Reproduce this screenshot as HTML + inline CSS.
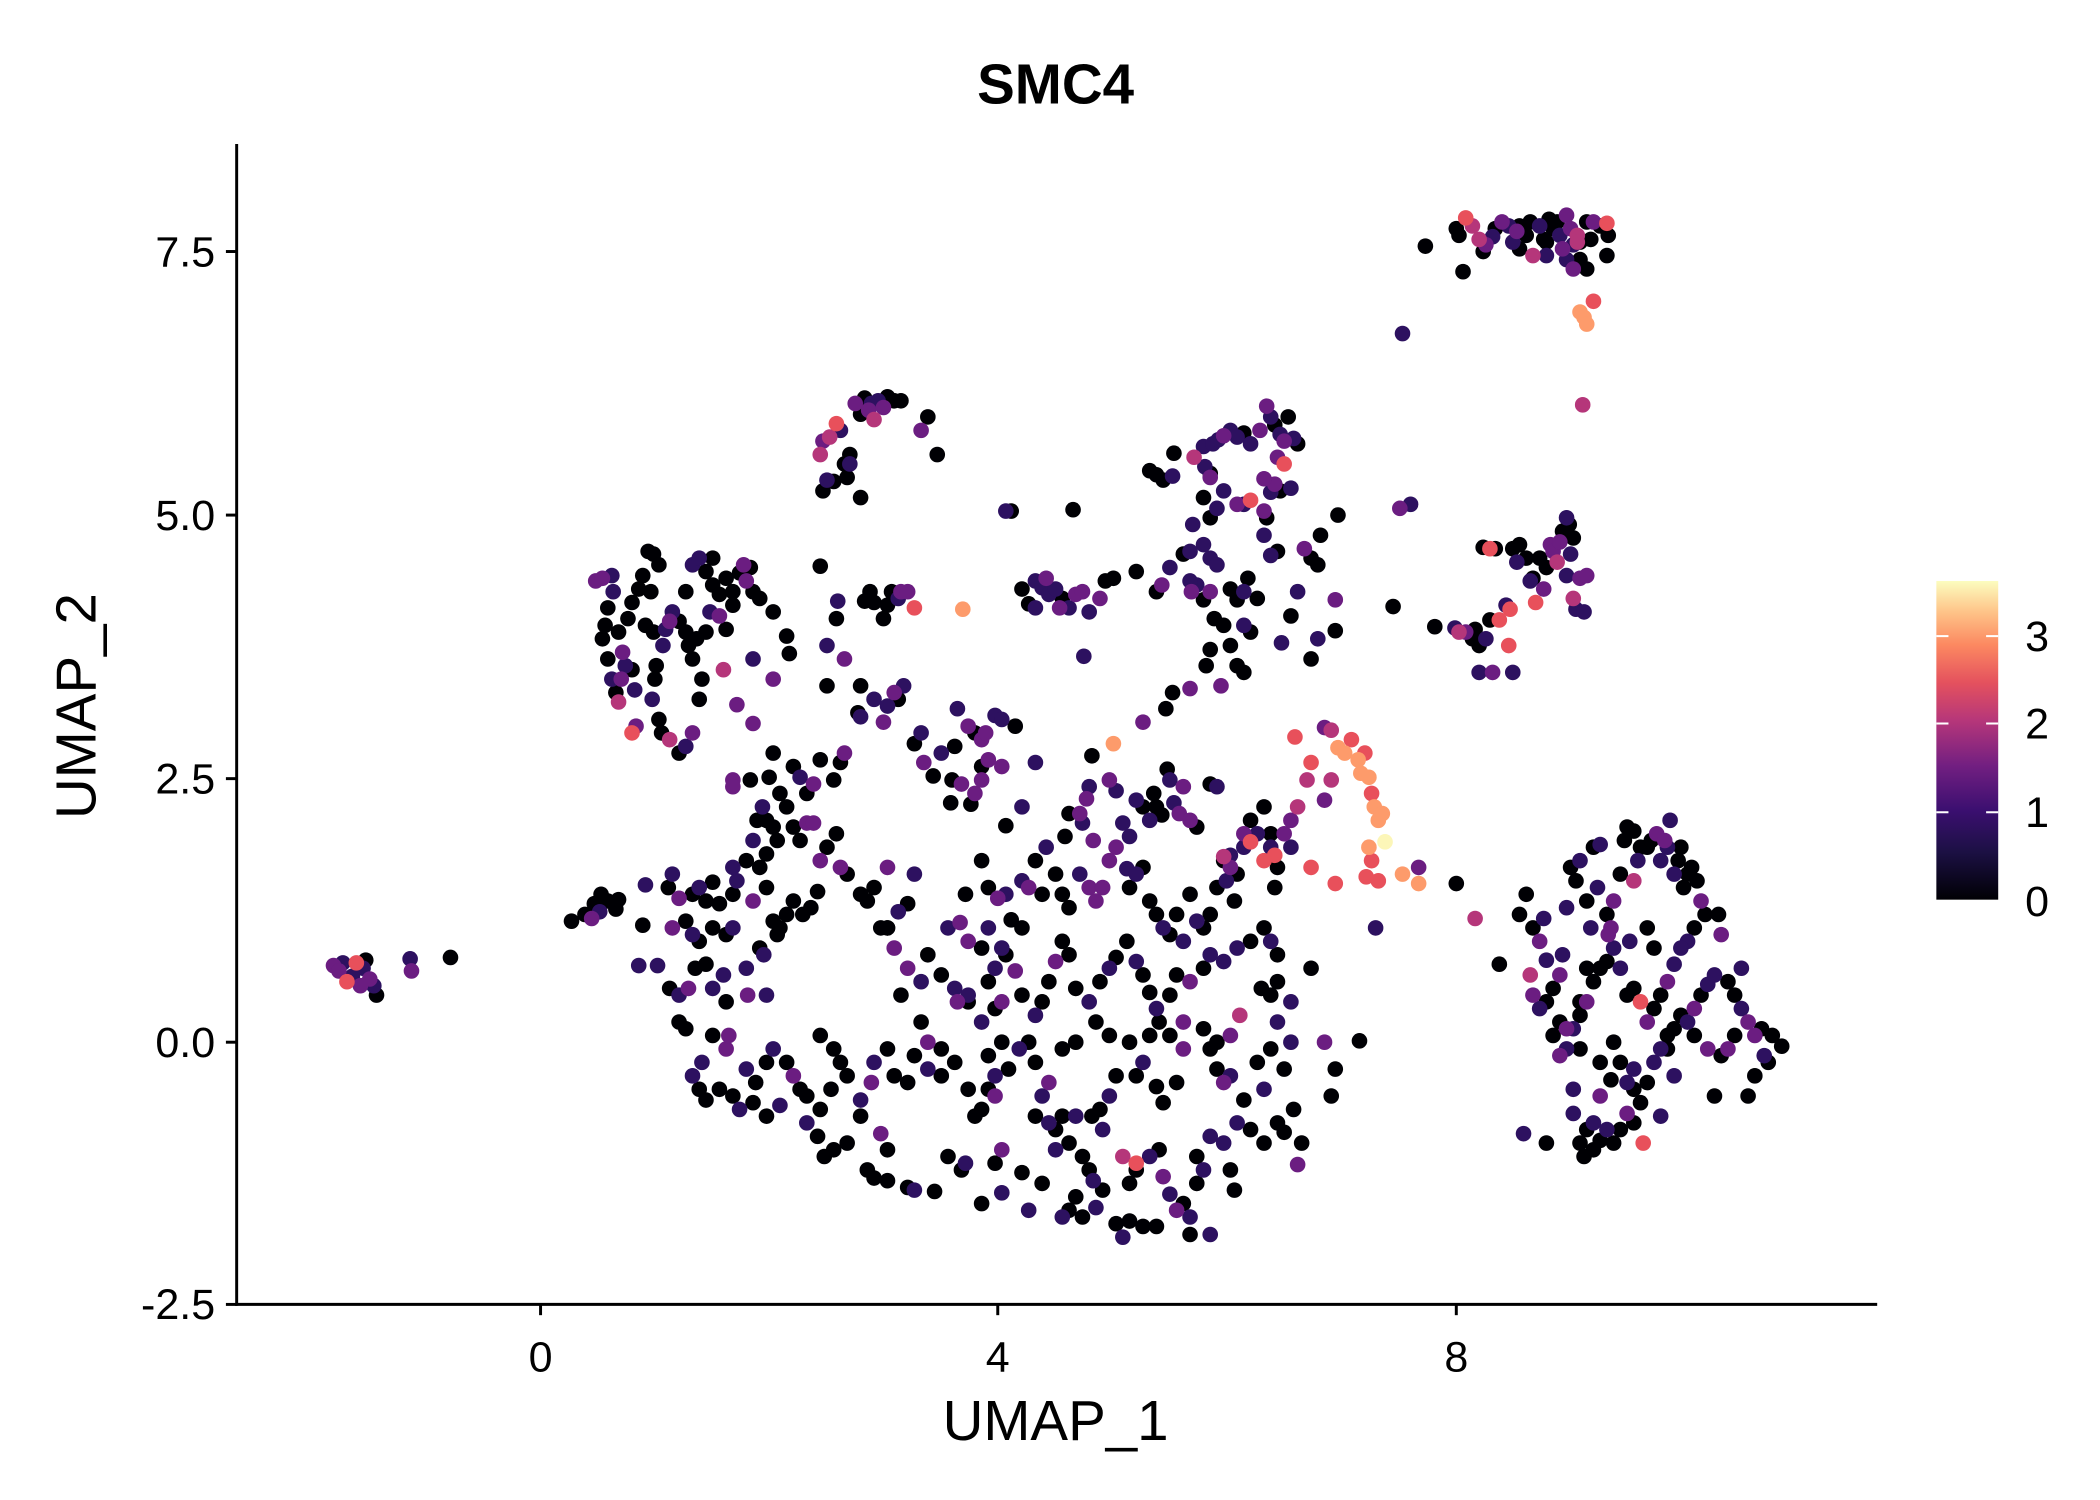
<!DOCTYPE html>
<html><head><meta charset="utf-8"><style>html,body{margin:0;padding:0;background:#fff}svg{display:block}</style></head>
<body>
<svg id="s" xmlns="http://www.w3.org/2000/svg" width="2100" height="1500" viewBox="0 0 1561.7 1115.4" font-family="Liberation Sans, sans-serif">
<defs><linearGradient id="g" x1="0" y1="1" x2="0" y2="0">
<stop offset="0" stop-color="#000004"/><stop offset="0.15" stop-color="#1c1044"/><stop offset="0.28" stop-color="#3b0f70"/><stop offset="0.42" stop-color="#721f81"/><stop offset="0.56" stop-color="#b5367a"/><stop offset="0.68" stop-color="#e4515e"/><stop offset="0.8" stop-color="#fc8961"/><stop offset="0.9" stop-color="#fec287"/><stop offset="1" stop-color="#fcfdbf"/></linearGradient></defs>
<rect width="1561.7" height="1115.4" fill="#fff"/>
<text x="785" y="77" font-size="42" font-weight="bold" text-anchor="middle">SMC4</text>
<g id="pts"></g>
<line x1="176" y1="107" x2="176" y2="971" stroke="#000" stroke-width="2.2"/>
<line x1="175" y1="970" x2="1396" y2="970" stroke="#000" stroke-width="2.2"/>
<g stroke="#000" stroke-width="2.2">
<line x1="168" y1="187" x2="176" y2="187"/><line x1="168" y1="383" x2="176" y2="383"/><line x1="168" y1="579" x2="176" y2="579"/><line x1="168" y1="775" x2="176" y2="775"/><line x1="168" y1="970" x2="176" y2="970"/>
<line x1="402" y1="970" x2="402" y2="978"/><line x1="742" y1="970" x2="742" y2="978"/><line x1="1083" y1="970" x2="1083" y2="978"/></g>
<g font-size="32" text-anchor="end"><text x="160" y="198">7.5</text><text x="160" y="394">5.0</text><text x="160" y="590">2.5</text><text x="160" y="786">0.0</text><text x="160" y="981">-2.5</text></g>
<g font-size="32" text-anchor="middle"><text x="402" y="1020">0</text><text x="742" y="1020">4</text><text x="1083" y="1020">8</text></g>
<text x="785" y="1071" font-size="42" text-anchor="middle">UMAP_1</text>
<text transform="translate(71,525) rotate(-90)" font-size="42" text-anchor="middle">UMAP_2</text>
<rect x="1440" y="432" width="46" height="237" fill="url(#g)"/>
<g stroke="#fff" stroke-width="1.5"><line x1="1440" y1="473" x2="1449" y2="473"/><line x1="1477" y1="473" x2="1486" y2="473"/><line x1="1440" y1="538" x2="1449" y2="538"/><line x1="1477" y1="538" x2="1486" y2="538"/><line x1="1440" y1="604" x2="1449" y2="604"/><line x1="1477" y1="604" x2="1486" y2="604"/></g>
<g font-size="32"><text x="1506" y="484">3</text><text x="1506" y="549">2</text><text x="1506" y="615">1</text><text x="1506" y="681">0</text></g>
</svg>
<script>
var C={k:"#000004",d:"#2d1160",p:"#6b1d81",m:"#b5367a",r:"#e8505b",o:"#fd9b6b",y:"#fcf6b8"};
var P=[
[248,718,"p"],[252,722,"p"],[258,730,"r"],[265,716,"r"],[270,720,"d"],[262,726,"d"],[275,728,"p"],[280,740,"k"],[278,733,"d"],[268,733,"p"],[305,713,"d"],[306,722,"p"],[335,712,"k"],[255,716,"d"],[272,714,"k"],
[425,685,"k"],[435,680,"k"],[442,672,"k"],[447,665,"k"],[452,670,"k"],[458,676,"k"],[460,669,"k"],[440,683,"p"],[446,678,"d"],[478,688,"k"],[480,658,"d"],[497,660,"k"],[475,718,"d"],[489,718,"d"],[500,690,"p"],[515,665,"k"],[520,660,"d"],[525,670,"k"],[530,656,"k"],
[443,432,"p"],[448,430,"p"],[455,428,"d"],[456,440,"d"],[452,452,"k"],[450,465,"k"],[448,475,"k"],[452,490,"k"],[455,505,"d"],[458,515,"k"],[460,522,"m"],[462,505,"p"],[463,485,"p"],[460,470,"k"],[465,495,"d"],[470,498,"k"],[472,513,"d"],[470,545,"r"],[473,540,"p"],[467,460,"k"],[470,448,"k"],[475,438,"k"],[478,428,"k"],[482,410,"k"],[486,412,"k"],[490,420,"k"],[484,440,"k"],[480,465,"k"],[486,470,"k"],[493,480,"d"],[488,495,"k"],[487,505,"k"],[485,520,"d"],[490,535,"k"],[492,545,"k"],[498,550,"m"],[505,560,"k"],[510,555,"d"],[515,545,"p"],[500,455,"d"],[498,462,"p"],[495,468,"d"],[505,462,"k"],[510,470,"k"],[512,480,"k"],[515,490,"k"],[518,475,"k"],[522,505,"k"],[520,520,"k"],[510,440,"k"],[515,420,"d"],[520,415,"d"],[525,425,"k"],[530,435,"k"],[535,442,"k"],[530,415,"k"],[540,430,"k"],[545,440,"k"],[550,426,"k"],[555,432,"p"],[560,440,"k"],[565,445,"k"],[553,420,"p"],[558,422,"k"],[540,468,"k"],[545,450,"k"],[535,458,"p"],[528,455,"d"],[525,470,"k"],[538,498,"m"],[548,524,"p"],[545,580,"p"],[545,585,"p"],[560,490,"d"],[575,505,"p"],[560,538,"p"],[585,473,"k"],[587,486,"k"],[575,455,"k"],
[610,338,"m"],[612,328,"p"],[617,325,"m"],[622,315,"r"],[625,320,"d"],[628,345,"k"],[632,338,"k"],[630,355,"k"],[632,345,"d"],[636,300,"p"],[640,308,"k"],[643,296,"k"],[646,305,"p"],[648,300,"d"],[650,312,"m"],[653,298,"d"],[657,303,"p"],[660,295,"k"],[665,298,"k"],[670,298,"k"],[685,320,"p"],[690,310,"k"],[697,338,"k"],[640,370,"k"],[615,357,"d"],[612,365,"k"],[620,358,"k"],
[610,421,"k"],[623,447,"d"],[622,460,"k"],[615,480,"d"],[628,490,"p"],[615,510,"k"],[640,510,"k"],[650,520,"d"],[660,525,"d"],[665,515,"p"],[672,510,"d"],[668,520,"k"],[643,447,"k"],[647,440,"k"],[650,448,"k"],[657,460,"k"],[660,450,"k"],[663,440,"k"],[668,445,"d"],[670,440,"p"],[675,440,"p"],[680,452,"r"],[638,530,"k"],[640,533,"d"],[657,537,"p"],[685,545,"d"],[680,553,"k"],[687,567,"p"],[694,577,"k"],[700,560,"d"],[710,555,"k"],[712,527,"d"],[720,540,"p"],[725,545,"k"],[730,550,"p"],[733,545,"p"],[730,570,"k"],[735,565,"p"],[740,532,"d"],[745,535,"d"],[755,540,"k"],[708,580,"k"],[707,597,"k"],[715,583,"p"],[722,598,"k"],[725,590,"p"],[730,580,"p"],[745,570,"p"],[770,567,"d"],[760,600,"d"],[748,614,"k"],[716,453,"o"],[748,380,"d"],[752,380,"k"],[798,379,"k"],[806,488,"d"],
[760,438,"k"],[765,449,"k"],[770,432,"d"],[775,437,"d"],[778,430,"p"],[780,442,"d"],[785,438,"d"],[790,445,"k"],[795,452,"d"],[800,442,"p"],[805,440,"p"],[810,455,"d"],[818,445,"p"],[822,432,"k"],[828,430,"k"],[845,425,"k"],[788,452,"p"],[770,452,"d"],
[855,350,"k"],[860,353,"k"],[865,357,"k"],[873,337,"k"],[872,354,"d"],[888,340,"m"],[895,332,"d"],[896,347,"d"],[900,352,"k"],[900,355,"p"],[902,330,"d"],[906,327,"d"],[910,324,"p"],[915,320,"d"],[920,325,"d"],[925,322,"k"],[930,330,"d"],[937,320,"p"],[942,302,"p"],[945,310,"d"],[948,316,"k"],[952,323,"d"],[955,328,"p"],[958,310,"k"],[962,326,"d"],[965,330,"k"],[955,345,"r"],[950,340,"p"],[948,360,"p"],[952,365,"k"],[960,363,"d"],[930,372,"r"],[925,375,"d"],[920,375,"p"],[940,356,"p"],[945,366,"d"],[940,380,"p"],[910,365,"d"],[905,378,"d"],[900,385,"k"],[895,370,"k"],[887,390,"d"],[885,410,"d"],[895,405,"d"],[900,415,"d"],[905,420,"d"],[900,440,"p"],[895,446,"k"],[890,435,"d"],[885,432,"d"],[886,440,"p"],[880,412,"k"],[870,422,"d"],[860,440,"k"],[864,435,"p"],[915,438,"k"],[920,446,"k"],[925,440,"d"],[930,470,"k"],[925,465,"d"],[928,430,"k"],[935,445,"k"],[945,413,"d"],[940,398,"d"],[942,385,"k"],[950,410,"k"],[965,440,"d"],[970,408,"p"],[975,415,"k"],[980,420,"k"],[982,398,"k"],[995,383,"k"],[993,446,"p"],[993,469,"k"],[980,475,"d"],[975,490,"k"],[960,458,"k"],[953,478,"d"],[915,480,"k"],[920,495,"k"],[925,500,"k"],[908,510,"p"],[900,483,"k"],[897,495,"k"],[885,512,"p"],[872,515,"k"],[867,527,"k"],[850,537,"p"],[828,553,"o"],[903,460,"k"],[910,465,"k"],
[1036,451,"k"],[1041,378,"p"],[1049,375,"d"],[1043,248,"d"],
[1060,183,"k"],[1085,175,"k"],[1083,170,"k"],[1090,162,"r"],[1095,168,"m"],[1100,178,"m"],[1105,182,"p"],[1110,176,"d"],[1112,170,"k"],[1117,165,"p"],[1122,168,"d"],[1125,180,"d"],[1128,172,"p"],[1130,168,"k"],[1135,175,"k"],[1138,165,"k"],[1140,190,"m"],[1145,168,"d"],[1148,178,"k"],[1150,180,"k"],[1152,163,"k"],[1155,170,"k"],[1158,165,"k"],[1160,175,"d"],[1162,185,"p"],[1165,160,"p"],[1168,170,"p"],[1170,182,"d"],[1173,175,"m"],[1175,180,"k"],[1180,165,"k"],[1183,178,"k"],[1185,165,"p"],[1190,168,"k"],[1195,166,"r"],[1196,175,"k"],[1195,190,"k"],[1170,200,"p"],[1165,193,"d"],[1150,190,"d"],[1130,185,"k"],[1103,187,"k"],[1088,202,"k"],[1175,193,"k"],[1180,200,"k"],[1185,224,"r"],[1175,232,"o"],[1178,236,"o"],[1180,241,"o"],[1177,301,"m"],[1173,180,"m"],
[1067,466,"k"],[1082,467,"d"],[1085,470,"m"],[1090,470,"p"],[1095,475,"k"],[1097,468,"k"],[1100,480,"k"],[1105,475,"d"],[1108,461,"k"],[1103,407,"k"],[1108,408,"r"],[1112,408,"k"],[1115,461,"r"],[1120,450,"d"],[1100,500,"d"],[1110,500,"p"],[1125,500,"d"],[1122,480,"r"],[1125,408,"k"],[1128,418,"d"],[1130,405,"k"],[1135,415,"k"],[1138,432,"d"],[1140,430,"k"],[1142,448,"r"],[1148,438,"p"],[1150,422,"k"],[1153,405,"p"],[1155,410,"p"],[1158,418,"m"],[1160,403,"p"],[1162,395,"k"],[1165,385,"d"],[1167,390,"k"],[1170,400,"k"],[1165,428,"d"],[1170,445,"m"],[1172,453,"d"],[1175,430,"p"],[1178,455,"d"],[1180,428,"p"],[1168,412,"d"],[1145,415,"k"],[1123,453,"r"],
[803,605,"p"],[805,612,"d"],[808,594,"p"],[810,585,"d"],[813,625,"p"],[825,580,"p"],[830,588,"d"],[835,612,"d"],[840,622,"d"],[845,595,"d"],[850,600,"k"],[855,610,"d"],[858,590,"k"],[860,600,"k"],[864,606,"k"],[868,572,"k"],[870,580,"d"],[873,597,"d"],[877,605,"p"],[880,585,"p"],[885,610,"p"],[890,615,"k"],[900,583,"k"],[905,585,"d"],[812,562,"k"],[795,605,"k"],[792,622,"k"],[778,630,"d"],[770,640,"k"],[760,655,"d"],[765,660,"p"],[748,665,"d"],[742,668,"p"],[735,660,"k"],[730,640,"k"],[718,665,"k"],[705,690,"d"],[714,686,"p"],[720,700,"p"],[730,705,"k"],[735,690,"d"],[745,705,"d"],[752,684,"k"],[760,690,"k"],[775,665,"k"],[785,650,"k"],[790,665,"k"],[795,675,"k"],[803,650,"d"],[810,660,"p"],[815,670,"p"],[820,660,"p"],[825,640,"p"],[830,630,"p"],[838,646,"d"],[840,660,"k"],[845,650,"d"],[850,645,"k"],[855,670,"k"],[860,680,"k"],[865,690,"d"],[870,695,"k"],[875,680,"k"],[880,700,"d"],[885,665,"k"],[890,685,"d"],[895,690,"k"],[900,680,"k"],[905,660,"k"],[910,640,"k"],[912,655,"d"],[918,670,"k"],[920,650,"k"],[915,636,"d"],[925,630,"d"],[930,610,"k"],[935,620,"d"],[940,600,"k"],[945,630,"d"],[950,645,"k"],[955,620,"p"],[948,660,"k"],[940,690,"k"],[945,700,"d"],[950,710,"k"],[930,700,"k"],[920,705,"d"],[910,715,"d"],[900,710,"d"],[895,720,"k"],[885,730,"p"],[875,725,"k"],[870,740,"k"],[860,750,"d"],[855,738,"k"],[850,725,"k"],[845,715,"d"],[838,700,"k"],[830,712,"k"],[825,720,"d"],[818,730,"k"],[810,745,"d"],[800,735,"k"],[795,710,"k"],[790,700,"k"],[785,715,"p"],[780,730,"k"],[775,745,"k"],[770,755,"d"],[760,740,"k"],[755,722,"p"],[748,710,"k"],[740,720,"d"],[735,730,"k"],[745,745,"p"],[740,750,"k"],[730,760,"d"],[720,745,"k"],[710,735,"d"],[700,725,"k"],[690,710,"k"],[685,730,"d"],[675,720,"p"],[665,705,"p"],[660,690,"k"],[670,740,"k"],[685,760,"k"],[690,775,"p"],[680,785,"k"],[690,795,"d"],[675,805,"k"],[665,800,"k"],[660,780,"k"],[650,790,"d"],[648,805,"p"],[640,818,"d"],[630,800,"k"],[625,790,"k"],[620,780,"k"],[610,770,"k"],[618,810,"k"],[610,825,"k"],[600,815,"k"],[590,800,"p"],[585,790,"k"],[575,780,"d"],[570,790,"k"],[562,805,"k"],[555,795,"d"],[540,780,"p"],[530,770,"k"],[522,790,"d"],[515,800,"d"],[520,810,"k"],[525,818,"k"],[535,810,"k"],[545,815,"k"],[550,825,"d"],[560,820,"k"],[570,830,"k"],[580,822,"d"],[595,810,"k"],[600,835,"d"],[608,845,"k"],[613,860,"k"],[620,855,"k"],[630,850,"k"],[640,830,"k"],[655,843,"p"],[660,855,"k"],[645,870,"k"],[650,876,"k"],[660,878,"k"],[675,883,"k"],[680,885,"d"],[695,886,"k"],[705,860,"k"],[715,870,"k"],[718,865,"d"],[730,895,"k"],[745,887,"d"],[760,872,"k"],[765,900,"d"],[775,880,"k"],[785,855,"d"],[795,850,"k"],[800,830,"d"],[805,860,"k"],[810,870,"k"],[813,878,"d"],[800,890,"k"],[795,900,"k"],[790,905,"d"],[805,905,"k"],[815,898,"d"],[820,885,"k"],[830,910,"k"],[840,908,"k"],[850,912,"k"],[845,870,"k"],[840,880,"k"],[835,860,"m"],[845,865,"r"],[855,860,"d"],[862,855,"k"],[865,875,"p"],[870,888,"d"],[875,900,"p"],[885,905,"d"],[880,895,"k"],[890,880,"k"],[895,870,"d"],[900,918,"d"],[885,918,"k"],[860,912,"k"],[835,920,"d"],[890,860,"k"],[900,845,"d"],[910,850,"d"],[915,870,"k"],[918,885,"k"],[930,840,"k"],[940,850,"k"],[950,835,"k"],[955,842,"k"],[965,866,"p"],[968,850,"k"],[920,835,"d"],[925,818,"k"],[915,800,"d"],[910,805,"p"],[905,795,"k"],[900,780,"k"],[895,765,"k"],[880,780,"p"],[870,770,"k"],[862,760,"k"],[855,770,"k"],[850,790,"d"],[845,800,"k"],[840,775,"k"],[830,800,"k"],[825,815,"d"],[818,825,"k"],[812,830,"k"],[780,805,"p"],[775,815,"d"],[770,790,"k"],[765,775,"k"],[758,780,"d"],[750,795,"k"],[740,800,"d"],[735,810,"k"],[730,825,"k"],[725,830,"k"],[720,810,"k"],[710,790,"k"],[700,780,"k"],[935,790,"k"],[940,810,"d"],[945,780,"k"],[955,795,"k"],[962,825,"k"],[985,775,"p"],[993,795,"k"],[1011,774,"k"],[990,815,"k"],[960,775,"d"],[950,760,"d"],[945,740,"k"],[938,735,"k"],[950,730,"k"],[960,745,"d"],[975,720,"k"],[922,755,"m"],[915,770,"p"],[905,775,"k"],[880,760,"p"],[875,805,"k"],[865,820,"k"],[860,808,"k"],[825,770,"k"],[815,760,"k"],[800,775,"k"],[790,780,"k"],[745,775,"k"],[735,785,"k"],[720,740,"d"],[712,745,"p"],[700,800,"k"],[745,855,"p"],[740,865,"k"],[740,815,"p"],[770,830,"k"],[780,835,"d"],[785,840,"k"],[790,830,"k"],[820,840,"d"],
[500,650,"d"],[505,668,"p"],[510,685,"k"],[515,695,"d"],[517,720,"k"],[520,700,"k"],[525,717,"k"],[530,735,"d"],[540,695,"k"],[545,690,"d"],[530,690,"k"],[535,672,"k"],[545,665,"k"],[548,655,"d"],[545,645,"d"],[555,640,"k"],[560,625,"d"],[563,610,"k"],[567,600,"d"],[570,610,"k"],[575,615,"k"],[578,625,"k"],[585,600,"k"],[590,615,"k"],[595,625,"k"],[600,612,"p"],[605,612,"p"],[610,640,"p"],[615,630,"k"],[622,620,"k"],[625,645,"p"],[570,660,"k"],[575,685,"k"],[578,695,"k"],[580,690,"k"],[585,680,"k"],[590,670,"k"],[597,680,"k"],[603,675,"k"],[608,663,"k"],[565,645,"k"],[570,635,"k"],[560,670,"p"],[565,705,"k"],[568,710,"d"],[570,740,"d"],[556,740,"p"],[555,720,"d"],[542,770,"p"],[540,745,"k"],[538,725,"d"],[510,765,"k"],[512,735,"p"],[505,740,"d"],[498,735,"k"],[505,760,"k"],[600,590,"k"],[572,578,"k"],[558,580,"k"],[575,560,"k"],[580,590,"k"],[590,570,"k"],[595,578,"d"],[605,583,"p"],[610,565,"k"],[620,580,"k"],[625,567,"k"],[628,560,"p"],[660,690,"k"],[668,678,"d"],[675,672,"k"],[680,650,"d"],[660,645,"p"],[650,660,"k"],[645,670,"k"],[640,665,"k"],[630,650,"k"],[655,690,"k"],
[963,548,"r"],[975,567,"r"],[985,541,"p"],[990,543,"m"],[995,556,"o"],[1000,560,"o"],[1005,550,"r"],[1010,565,"o"],[1015,560,"r"],[1012,575,"o"],[1018,578,"o"],[1020,590,"r"],[1022,600,"o"],[1025,610,"o"],[1028,605,"o"],[1018,630,"o"],[1020,640,"r"],[1016,652,"r"],[1025,655,"r"],[1043,650,"o"],[1055,657,"o"],[1055,645,"p"],[975,645,"r"],[993,657,"r"],[985,595,"p"],[990,580,"m"],[965,600,"m"],[960,610,"p"],[945,620,"k"],[948,636,"r"],[940,640,"r"],[925,620,"p"],[930,626,"r"],[915,645,"p"],[910,637,"m"],[972,580,"m"],[1083,657,"k"],[1097,683,"m"],[1023,690,"d"],[960,630,"d"],[1030,626,"y"],
[1115,717,"k"],[1130,680,"k"],[1135,665,"k"],[1140,690,"k"],[1145,700,"p"],[1150,714,"d"],[1148,683,"d"],[1138,725,"m"],[1140,740,"p"],[1145,750,"d"],[1150,745,"k"],[1155,735,"k"],[1160,725,"p"],[1162,710,"d"],[1165,675,"d"],[1168,645,"k"],[1172,655,"k"],[1175,640,"d"],[1180,670,"k"],[1185,630,"k"],[1188,660,"d"],[1190,628,"d"],[1195,680,"k"],[1198,690,"p"],[1200,670,"p"],[1205,650,"k"],[1208,625,"k"],[1210,615,"k"],[1215,618,"k"],[1215,655,"m"],[1218,640,"d"],[1220,630,"k"],[1225,630,"k"],[1228,625,"k"],[1232,620,"p"],[1235,640,"d"],[1238,625,"p"],[1240,630,"d"],[1242,610,"d"],[1245,650,"d"],[1248,640,"k"],[1250,630,"k"],[1252,660,"k"],[1255,650,"k"],[1258,645,"k"],[1262,655,"k"],[1265,670,"p"],[1268,680,"k"],[1260,690,"k"],[1255,700,"d"],[1250,705,"d"],[1245,717,"d"],[1240,730,"p"],[1235,740,"k"],[1230,750,"k"],[1225,760,"p"],[1220,745,"r"],[1215,735,"k"],[1210,740,"k"],[1205,720,"d"],[1200,705,"d"],[1195,715,"k"],[1190,720,"k"],[1185,730,"k"],[1180,745,"p"],[1175,755,"k"],[1170,765,"d"],[1165,780,"d"],[1160,785,"p"],[1155,770,"k"],[1160,760,"k"],[1165,765,"p"],[1175,745,"k"],[1180,720,"k"],[1200,775,"k"],[1205,790,"k"],[1210,805,"d"],[1215,810,"k"],[1220,820,"k"],[1225,805,"k"],[1230,790,"d"],[1235,780,"d"],[1240,770,"k"],[1245,765,"k"],[1250,755,"k"],[1255,760,"d"],[1260,750,"p"],[1265,740,"k"],[1270,732,"d"],[1275,725,"d"],[1278,680,"k"],[1280,695,"p"],[1285,730,"k"],[1290,740,"k"],[1295,750,"d"],[1300,760,"p"],[1305,770,"p"],[1310,765,"k"],[1312,785,"d"],[1315,790,"k"],[1318,770,"k"],[1325,778,"k"],[1305,800,"k"],[1300,815,"k"],[1295,720,"d"],[1290,770,"k"],[1285,780,"p"],[1280,785,"k"],[1275,815,"k"],[1270,780,"p"],[1260,770,"k"],[1245,800,"d"],[1240,780,"k"],[1215,795,"d"],[1198,803,"k"],[1190,815,"p"],[1185,835,"d"],[1180,840,"k"],[1175,850,"k"],[1170,828,"d"],[1178,860,"k"],[1185,855,"k"],[1190,848,"k"],[1195,840,"d"],[1200,850,"k"],[1205,840,"k"],[1215,835,"k"],[1222,850,"r"],[1210,828,"p"],[1235,830,"d"],[1150,850,"k"],[1133,843,"d"],[1175,780,"k"],[1170,810,"d"],[1190,790,"k"],[1225,690,"k"],[1230,705,"k"],[1212,700,"d"],[1196,695,"p"],[1183,690,"d"]
];
var order={k:0,d:1,p:2,m:3,r:4,o:5,y:6};
P.sort(function(a,b){return order[a[2]]-order[b[2]];});
var g=document.getElementById("pts"),h="";
P.forEach(function(q){h+='<circle cx="'+q[0]+'" cy="'+q[1]+'" r="5.8" fill="'+C[q[2]]+'"/>';});
g.innerHTML=h;
</script>
</body></html>
